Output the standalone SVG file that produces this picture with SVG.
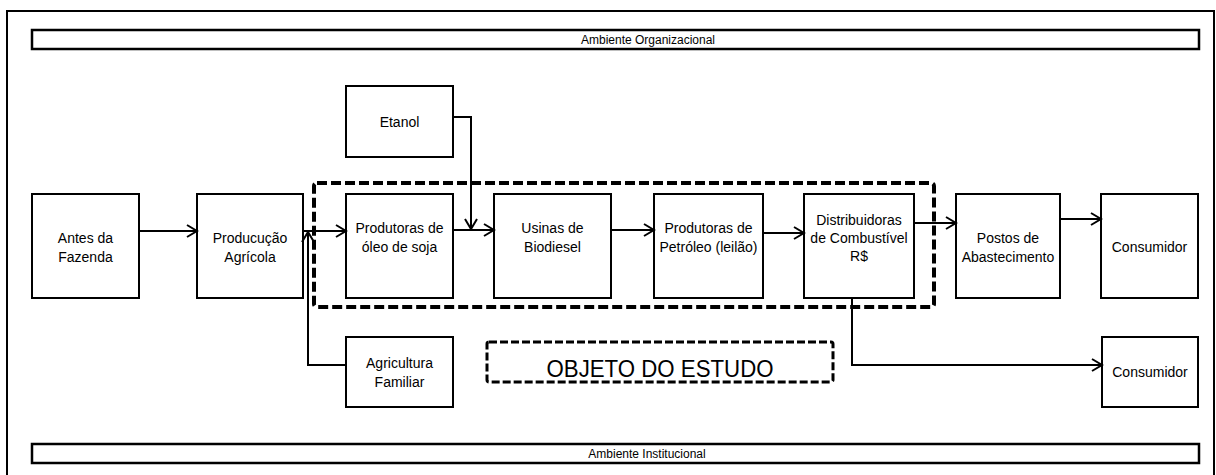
<svg xmlns="http://www.w3.org/2000/svg" width="1216" height="475" viewBox="0 0 1216 475">
<style>
.box{fill:#fff;stroke:#000;stroke-width:2}
.t{font-family:"Liberation Sans",Arial,sans-serif;font-size:14px;fill:#000;text-anchor:middle}
.s{font-size:12px}
.c{fill:none;stroke:#000;stroke-width:2;marker-end:url(#ah)}
.c2{fill:none;stroke:#000;stroke-width:2}
.dash{fill:none;stroke:#000;stroke-width:4;stroke-dasharray:10 4}
</style>
<defs>
<marker id="ah" markerUnits="userSpaceOnUse" markerWidth="14" markerHeight="16" refX="11" refY="7" orient="auto">
<path d="M1,1 L11,7 L1,13" fill="none" stroke="#000" stroke-width="2"/>
</marker>
</defs>
<rect x="7" y="11" width="1207" height="480" fill="#fff" stroke="#000" stroke-width="2"/>
<g id="org"><rect x="32" y="30" width="1167" height="19" fill="#fff" stroke="#000" stroke-width="2.5"/><text class="t s" x="648" y="44">Ambiente Organizacional</text></g>
<g id="inst"><rect x="32" y="444" width="1167" height="19" fill="#fff" stroke="#000" stroke-width="2.5"/><text class="t s" x="647" y="458">Ambiente Institucional</text></g>
<g id="estudo"><rect x="314" y="183" width="620" height="124" rx="3" class="dash"/></g>
<g id="objeto"><rect x="487" y="342" width="346" height="40" rx="2" fill="none" stroke="#000" stroke-width="3" stroke-dasharray="8 3"/><text x="660" y="377" font-family="'Liberation Sans',Arial,sans-serif" font-size="24" text-anchor="middle" textLength="227" lengthAdjust="spacingAndGlyphs">OBJETO DO ESTUDO</text></g>
<g id="antes"><rect class="box" x="32" y="194" width="107" height="104"/><text class="t" x="85.5" y="243">Antes da</text><text class="t" x="85.5" y="262">Fazenda</text></g>
<g id="producao"><rect class="box" x="197" y="194" width="106" height="104"/><text class="t" x="250" y="243">Producução</text><text class="t" x="250" y="262">Agrícola</text></g>
<g id="etanol"><rect class="box" x="346" y="86" width="107" height="71"/><text class="t" x="399.5" y="127">Etanol</text></g>
<g id="oleo"><rect class="box" x="346" y="194" width="107" height="104"/><text class="t" x="399.5" y="233">Produtoras de</text><text class="t" x="399.5" y="252">óleo de soja</text></g>
<g id="usinas"><rect class="box" x="494" y="194" width="117" height="104"/><text class="t" x="552.5" y="233">Usinas de</text><text class="t" x="552.5" y="252">Biodiesel</text></g>
<g id="petroleo"><rect class="box" x="654" y="194" width="109" height="104"/><text class="t" x="708.5" y="233">Produtoras de</text><text class="t" x="708.5" y="252">Petróleo (leilão)</text></g>
<g id="distrib"><rect class="box" x="804" y="194" width="110" height="104"/><text class="t" x="859" y="225">Distribuidoras</text><text class="t" x="859" y="243">de Combustível</text><text class="t" x="859" y="261">R$</text></g>
<g id="postos"><rect class="box" x="956" y="194" width="104" height="104"/><text class="t" x="1008" y="243">Postos de</text><text class="t" x="1008" y="262">Abastecimento</text></g>
<g id="consumidor1"><rect class="box" x="1101" y="194" width="97" height="104"/><text class="t" x="1149.5" y="252">Consumidor</text></g>
<g id="agricultura"><rect class="box" x="346" y="337" width="107" height="70"/><text class="t" x="399.5" y="368">Agricultura</text><text class="t" x="399.5" y="387">Familiar</text></g>
<g id="consumidor2"><rect class="box" x="1102" y="337" width="96" height="70"/><text class="t" x="1150" y="377">Consumidor</text></g>
<g id="connectors">
<path class="c" d="M139,231 H197"/>
<path class="c" d="M303,231 H346"/>
<path class="c" d="M346,365 H308 V232"/>
<path class="c" d="M453,117 H471 V229"/>
<path class="c" d="M453,230 H494"/>
<path class="c" d="M611,230 H654"/>
<path class="c" d="M763,233 H804"/>
<path class="c" d="M914,223 H956"/>
<path class="c" d="M1060,219 H1101"/>
<path class="c" d="M852,298 V365 H1102"/>
</g>
</svg>
